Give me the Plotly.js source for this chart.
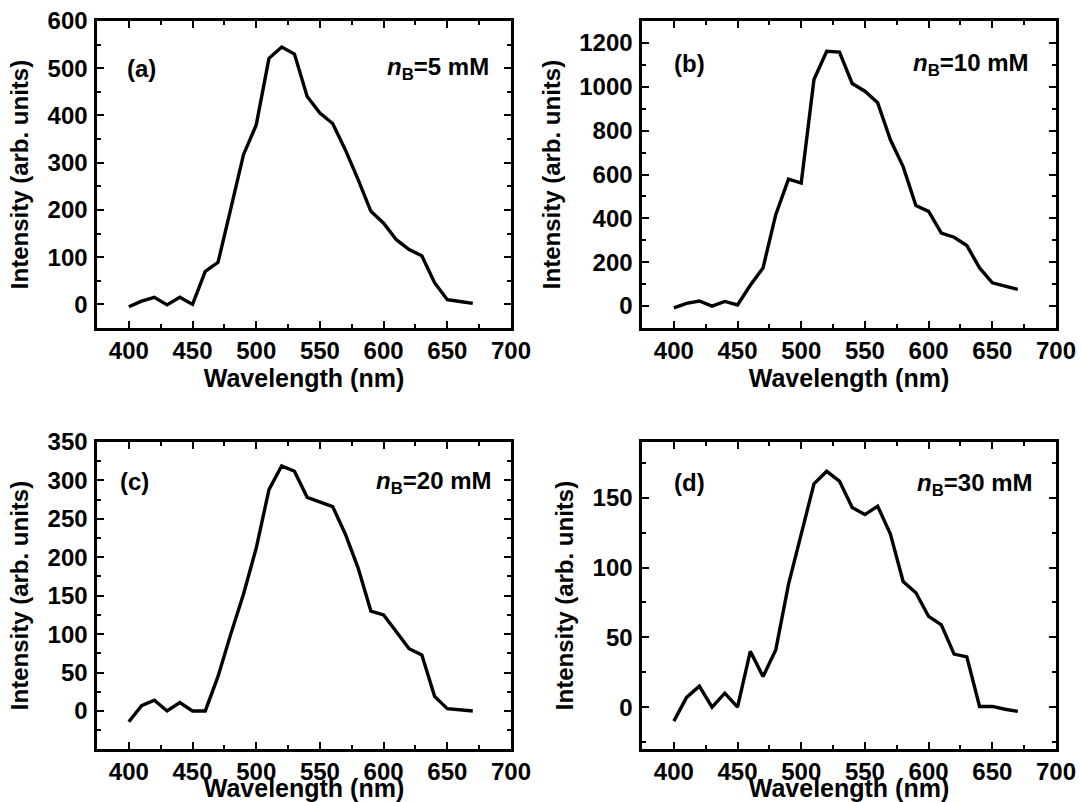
<!DOCTYPE html>
<html>
<head>
<meta charset="utf-8">
<script src="https://cdn.plot.ly/plotly-3.0.1.min.js"></script>
<style>html,body{margin:0;padding:0;background:#fff;}#chart{width:1081px;height:802px;}</style>
</head>
<body>
<div id="chart"></div>
<script>
// Wavelength (nm)
const wavelength = [400, 410, 420, 430, 440, 450, 460, 470, 480, 490, 500, 510, 520, 530, 540, 550, 560, 570, 580, 590, 600, 610, 620, 630, 640, 650, 660, 670];
// Intensity (arb. units) for each boron concentration
const intensity5mM  = [-5, 7, 15, -1, 15, 0, 70, 89, 202, 317, 380, 521, 545, 530, 440, 405, 383, 327, 264, 197, 172, 137, 116, 103, 46, 10, 6, 2];
const intensity10mM = [-8, 12, 23, 0, 21, 5, 95, 174, 417, 579, 561, 1033, 1162, 1158, 1015, 980, 927, 758, 636, 459, 432, 333, 314, 276, 174, 106, 91, 76];
const intensity20mM = [-14, 7, 14, 0, 11, 0, 0, 45, 100, 152, 212, 288, 319, 312, 278, 272, 266, 230, 186, 130, 125, 103, 81, 73, 19, 3, 1, 0];
const intensity30mM = [-10, 7, 15, 0, 10, 0, 40, 22, 41, 88, 124, 160, 169, 162, 143, 138, 144, 124, 90, 82, 65, 59, 38, 36, 0.5, 0.5, -1.5, -3];
const panelLabels = ["(a)", "(b)", "(c)", "(d)"];
const concentrations = ["5", "10", "20", "30"];
const xTitle = "Wavelength (nm)";
const yTitle = "Intensity (arb. units)";

const series = [intensity5mM, intensity10mM, intensity20mM, intensity30mM];
const yRanges = [[-50, 600], [-100, 1300], [-49.5, 350], [-30, 190]];
const yDticks = [100, 200, 50, 50];
const yMinor = [50, 100, 25, 25];

const FONT = "Liberation Sans, Arial, Helvetica, sans-serif";
const W = 1081, H = 802;
const M = {l: 97, r: 25, t: 21, b: 53};
const PW = W - M.l - M.r, PH = H - M.t - M.b;
// panel boxes in pixels
const boxes = [
  {x0: 97, x1: 511, y0: 21, y1: 328},
  {x0: 642, x1: 1056, y0: 21, y1: 328},
  {x0: 97, x1: 511, y0: 442, y1: 749},
  {x0: 642, x1: 1056, y0: 442, y1: 749}
];
const px2x = p => (p - M.l) / PW;
const px2y = p => (H - M.b - p) / PH;

const data = [];
const layout = {
  width: W, height: H,
  margin: {l: M.l, r: M.r, t: M.t, b: M.b, pad: 0},
  paper_bgcolor: "#fff", plot_bgcolor: "#fff",
  showlegend: false,
  font: {family: FONT, color: "#000"},
  annotations: []
};

const textAnchors = [
  {lx: 125, ly: 68, rx: 491, ry: 68},
  {lx: 672, ly: 63, rx: 1031, ry: 64},
  {lx: 118, ly: 481, rx: 494, ry: 482},
  {lx: 672, ly: 482, rx: 1035, ry: 484}
];

for (let i = 0; i < 4; i++) {
  const sfx = i === 0 ? "" : String(i + 1);
  data.push({
    x: wavelength, y: series[i], type: "scatter", mode: "lines",
    xaxis: "x" + sfx, yaxis: "y" + sfx,
    line: {color: "#000", width: 3.4},
    hoverinfo: "skip"
  });
  const b = boxes[i];
  const common = {
    showline: true, linecolor: "#000", linewidth: 2.6, mirror: "allticks",
    ticks: "inside", ticklen: 7, tickwidth: 2, tickcolor: "#000",
    showgrid: false, zeroline: false,
    tickfont: {family: FONT, size: 24, color: "#000", weight: "bold"}
  };
  layout["xaxis" + sfx] = Object.assign({}, common, {
    domain: [px2x(b.x0), px2x(b.x1)],
    anchor: "y" + sfx,
    range: [375, 700], tick0: 400, dtick: 50,
    minor: {dtick: 25, tick0: 375, ticks: "inside", ticklen: 4, tickwidth: 2, tickcolor: "#000"},
    ticklabelstandoff: 0,
    title: {text: xTitle, font: {family: FONT, size: 25, color: "#000", weight: "bold"}, standoff: 0}
  });
  layout["yaxis" + sfx] = Object.assign({}, common, {
    domain: [px2y(b.y1), px2y(b.y0)],
    anchor: "x" + sfx,
    range: yRanges[i], tick0: 0, dtick: yDticks[i],
    minor: {dtick: yMinor[i], tick0: 0, ticks: "inside", ticklen: 4, tickwidth: 2, tickcolor: "#000"},
    ticklabelstandoff: 2,
    title: {text: yTitle, font: {family: FONT, size: 24, color: "#000", weight: "bold"}, standoff: 12}
  });
  const t = textAnchors[i];
  layout.annotations.push({
    xref: "paper", yref: "paper", x: px2x(t.lx), y: px2y(t.ly),
    xanchor: "left", yanchor: "middle", showarrow: false,
    text: panelLabels[i],
    font: {family: FONT, size: 24, color: "#000", weight: "bold"}
  });
  layout.annotations.push({
    xref: "paper", yref: "paper", x: px2x(t.rx), y: px2y(t.ry),
    xanchor: "right", yanchor: "middle", showarrow: false,
    text: "<i>n</i><sub>B</sub>=" + concentrations[i] + " mM",
    font: {family: FONT, size: 24, color: "#000", weight: "bold"}
  });
}

Plotly.newPlot("chart", data, layout, {staticPlot: true, displayModeBar: false});
</script>
</body>
</html>
